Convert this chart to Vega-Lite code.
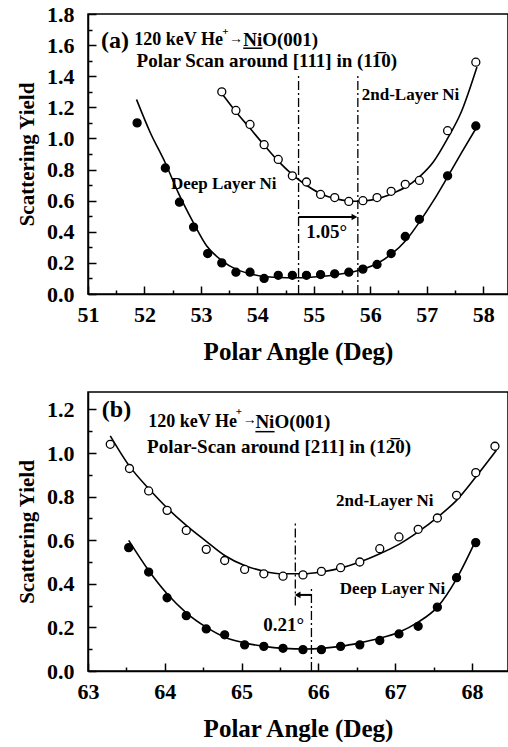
{
  "$schema": "https://vega.github.io/schema/vega-lite/v6.json",
  "padding": {"top": 2, "left": 15, "right": 0, "bottom": 0},
  "spacing": 26,
  "config": {
    "font": "Liberation Serif",
    "view": {"stroke": "black", "strokeWidth": 1.5},
    "axis": {
      "labelFont": "Liberation Serif", "labelFontWeight": "bold", "labelFontSize": 22, "labelColor": "black",
      "titleFont": "Liberation Serif", "titleFontWeight": "bold", "titleColor": "black",
      "domainColor": "black", "domainWidth": 1.5, "tickColor": "black", "tickWidth": 1.5, "grid": false,
      "labelOverlap": false, "labelFlush": false, "tickCount": 60
    },
    "text": {"font": "Liberation Serif", "fontWeight": "bold", "color": "black"}
  },
  "datasets": {
    "a_pts": [
      {"layer": "deep", "x": 51.87, "y": 1.10}, {"layer": "deep", "x": 52.37, "y": 0.81}, {"layer": "deep", "x": 52.62, "y": 0.59},
      {"layer": "deep", "x": 52.87, "y": 0.43}, {"layer": "deep", "x": 53.12, "y": 0.26}, {"layer": "deep", "x": 53.37, "y": 0.20},
      {"layer": "deep", "x": 53.62, "y": 0.14}, {"layer": "deep", "x": 53.87, "y": 0.14}, {"layer": "deep", "x": 54.12, "y": 0.10},
      {"layer": "deep", "x": 54.37, "y": 0.12}, {"layer": "deep", "x": 54.62, "y": 0.12}, {"layer": "deep", "x": 54.87, "y": 0.12},
      {"layer": "deep", "x": 55.12, "y": 0.125}, {"layer": "deep", "x": 55.37, "y": 0.13}, {"layer": "deep", "x": 55.62, "y": 0.14},
      {"layer": "deep", "x": 55.87, "y": 0.16}, {"layer": "deep", "x": 56.12, "y": 0.19}, {"layer": "deep", "x": 56.37, "y": 0.26},
      {"layer": "deep", "x": 56.62, "y": 0.37}, {"layer": "deep", "x": 56.87, "y": 0.48}, {"layer": "deep", "x": 57.37, "y": 0.76},
      {"layer": "deep", "x": 57.87, "y": 1.08},
      {"layer": "second", "x": 53.37, "y": 1.30}, {"layer": "second", "x": 53.62, "y": 1.18}, {"layer": "second", "x": 53.87, "y": 1.09},
      {"layer": "second", "x": 54.12, "y": 0.96}, {"layer": "second", "x": 54.37, "y": 0.865}, {"layer": "second", "x": 54.62, "y": 0.76},
      {"layer": "second", "x": 54.87, "y": 0.72}, {"layer": "second", "x": 55.12, "y": 0.64}, {"layer": "second", "x": 55.37, "y": 0.62},
      {"layer": "second", "x": 55.62, "y": 0.595}, {"layer": "second", "x": 55.87, "y": 0.60}, {"layer": "second", "x": 56.12, "y": 0.62},
      {"layer": "second", "x": 56.37, "y": 0.66}, {"layer": "second", "x": 56.62, "y": 0.705}, {"layer": "second", "x": 56.87, "y": 0.73},
      {"layer": "second", "x": 57.37, "y": 1.05}, {"layer": "second", "x": 57.87, "y": 1.49}
    ],
    "a_fit": [
      {"layer": "deep", "x": 51.86, "y": 1.25}, {"layer": "deep", "x": 52.1, "y": 1.04}, {"layer": "deep", "x": 52.36, "y": 0.85},
      {"layer": "deep", "x": 52.6, "y": 0.65}, {"layer": "deep", "x": 52.85, "y": 0.47}, {"layer": "deep", "x": 53.1, "y": 0.31},
      {"layer": "deep", "x": 53.37, "y": 0.215}, {"layer": "deep", "x": 53.62, "y": 0.16}, {"layer": "deep", "x": 53.87, "y": 0.13},
      {"layer": "deep", "x": 54.12, "y": 0.113}, {"layer": "deep", "x": 54.4, "y": 0.106}, {"layer": "deep", "x": 54.64, "y": 0.104},
      {"layer": "deep", "x": 54.9, "y": 0.106}, {"layer": "deep", "x": 55.12, "y": 0.112}, {"layer": "deep", "x": 55.4, "y": 0.124},
      {"layer": "deep", "x": 55.63, "y": 0.138}, {"layer": "deep", "x": 55.88, "y": 0.161}, {"layer": "deep", "x": 56.13, "y": 0.198},
      {"layer": "deep", "x": 56.38, "y": 0.258}, {"layer": "deep", "x": 56.63, "y": 0.344}, {"layer": "deep", "x": 56.87, "y": 0.462},
      {"layer": "deep", "x": 57.12, "y": 0.60}, {"layer": "deep", "x": 57.37, "y": 0.753}, {"layer": "deep", "x": 57.62, "y": 0.91},
      {"layer": "deep", "x": 57.89, "y": 1.075},
      {"layer": "second", "x": 53.37, "y": 1.29}, {"layer": "second", "x": 53.62, "y": 1.172}, {"layer": "second", "x": 53.87, "y": 1.065},
      {"layer": "second", "x": 54.12, "y": 0.957}, {"layer": "second", "x": 54.37, "y": 0.854}, {"layer": "second", "x": 54.62, "y": 0.768},
      {"layer": "second", "x": 54.87, "y": 0.699}, {"layer": "second", "x": 55.12, "y": 0.645}, {"layer": "second", "x": 55.38, "y": 0.613},
      {"layer": "second", "x": 55.63, "y": 0.598}, {"layer": "second", "x": 55.75, "y": 0.596}, {"layer": "second", "x": 55.88, "y": 0.598},
      {"layer": "second", "x": 56.13, "y": 0.613}, {"layer": "second", "x": 56.38, "y": 0.645}, {"layer": "second", "x": 56.63, "y": 0.688},
      {"layer": "second", "x": 56.87, "y": 0.753}, {"layer": "second", "x": 57.12, "y": 0.85}, {"layer": "second", "x": 57.37, "y": 1.0},
      {"layer": "second", "x": 57.6, "y": 1.16}, {"layer": "second", "x": 57.89, "y": 1.46}
    ],
    "a_vlines": [{"x": 54.73, "y": 0, "y2": 1.41}, {"x": 55.78, "y": 0, "y2": 1.41}],
    "a_arrow": [{"x": 54.73, "x2": 55.7, "y": 0.495, "head": 55.72}],
    "a_underline": [{"x": 53.75, "x2": 54.09, "y": 1.58}],
    "a_text": [
      {"role": "tag", "x": 51.23, "y": 1.625, "text": "(a)"},
      {"role": "mainR", "x": 53.39, "y": 1.63, "text": "120 keV He"},
      {"role": "sup", "x": 53.435, "y": 1.685, "text": "+"},
      {"role": "arrow", "x": 53.62, "y": 1.642, "text": "→"},
      {"role": "main", "x": 53.75, "y": 1.63, "text": "NiO(001)"},
      {"role": "main", "x": 51.86, "y": 1.495, "text": "Polar Scan around [111] in (11̅0)"},
      {"role": "series", "x": 55.85, "y": 1.28, "text": "2nd-Layer Ni"},
      {"role": "series", "x": 52.47, "y": 0.71, "text": "Deep Layer Ni"},
      {"role": "delta", "x": 55.23, "y": 0.40, "text": "1.05°"}
    ],
    "b_pts": [
      {"layer": "second", "x": 63.29, "y": 1.04}, {"layer": "second", "x": 63.54, "y": 0.929}, {"layer": "second", "x": 63.79, "y": 0.826},
      {"layer": "second", "x": 64.03, "y": 0.737}, {"layer": "second", "x": 64.28, "y": 0.645}, {"layer": "second", "x": 64.54, "y": 0.558},
      {"layer": "second", "x": 64.78, "y": 0.507}, {"layer": "second", "x": 65.04, "y": 0.466}, {"layer": "second", "x": 65.29, "y": 0.446},
      {"layer": "second", "x": 65.54, "y": 0.435}, {"layer": "second", "x": 65.80, "y": 0.441}, {"layer": "second", "x": 66.04, "y": 0.457},
      {"layer": "second", "x": 66.29, "y": 0.474}, {"layer": "second", "x": 66.54, "y": 0.50}, {"layer": "second", "x": 66.80, "y": 0.561},
      {"layer": "second", "x": 67.05, "y": 0.615}, {"layer": "second", "x": 67.30, "y": 0.65}, {"layer": "second", "x": 67.55, "y": 0.702},
      {"layer": "second", "x": 67.80, "y": 0.806}, {"layer": "second", "x": 68.05, "y": 0.91}, {"layer": "second", "x": 68.30, "y": 1.031},
      {"layer": "deep", "x": 63.53, "y": 0.566}, {"layer": "deep", "x": 63.79, "y": 0.454}, {"layer": "deep", "x": 64.03, "y": 0.336},
      {"layer": "deep", "x": 64.28, "y": 0.254}, {"layer": "deep", "x": 64.54, "y": 0.193}, {"layer": "deep", "x": 64.78, "y": 0.166},
      {"layer": "deep", "x": 65.04, "y": 0.12}, {"layer": "deep", "x": 65.29, "y": 0.113}, {"layer": "deep", "x": 65.54, "y": 0.104},
      {"layer": "deep", "x": 65.80, "y": 0.098}, {"layer": "deep", "x": 66.04, "y": 0.098}, {"layer": "deep", "x": 66.29, "y": 0.113},
      {"layer": "deep", "x": 66.54, "y": 0.12}, {"layer": "deep", "x": 66.80, "y": 0.14}, {"layer": "deep", "x": 67.05, "y": 0.17},
      {"layer": "deep", "x": 67.30, "y": 0.205}, {"layer": "deep", "x": 67.55, "y": 0.293}, {"layer": "deep", "x": 67.80, "y": 0.428},
      {"layer": "deep", "x": 68.05, "y": 0.589}
    ],
    "b_fit": [
      {"layer": "second", "x": 63.29, "y": 1.079}, {"layer": "second", "x": 63.54, "y": 0.94}, {"layer": "second", "x": 63.79, "y": 0.837},
      {"layer": "second", "x": 64.03, "y": 0.748}, {"layer": "second", "x": 64.28, "y": 0.668}, {"layer": "second", "x": 64.54, "y": 0.595},
      {"layer": "second", "x": 64.78, "y": 0.53}, {"layer": "second", "x": 65.04, "y": 0.484}, {"layer": "second", "x": 65.29, "y": 0.458},
      {"layer": "second", "x": 65.54, "y": 0.446}, {"layer": "second", "x": 65.80, "y": 0.446}, {"layer": "second", "x": 66.04, "y": 0.454},
      {"layer": "second", "x": 66.29, "y": 0.472}, {"layer": "second", "x": 66.54, "y": 0.50}, {"layer": "second", "x": 66.80, "y": 0.538},
      {"layer": "second", "x": 67.05, "y": 0.581}, {"layer": "second", "x": 67.30, "y": 0.638}, {"layer": "second", "x": 67.55, "y": 0.705},
      {"layer": "second", "x": 67.80, "y": 0.783}, {"layer": "second", "x": 68.05, "y": 0.89}, {"layer": "second", "x": 68.32, "y": 1.013},
      {"layer": "deep", "x": 63.53, "y": 0.599}, {"layer": "deep", "x": 63.79, "y": 0.461}, {"layer": "deep", "x": 64.03, "y": 0.354},
      {"layer": "deep", "x": 64.28, "y": 0.267}, {"layer": "deep", "x": 64.54, "y": 0.201}, {"layer": "deep", "x": 64.78, "y": 0.155},
      {"layer": "deep", "x": 65.04, "y": 0.129}, {"layer": "deep", "x": 65.29, "y": 0.113}, {"layer": "deep", "x": 65.54, "y": 0.104},
      {"layer": "deep", "x": 65.85, "y": 0.101}, {"layer": "deep", "x": 66.04, "y": 0.104}, {"layer": "deep", "x": 66.29, "y": 0.113},
      {"layer": "deep", "x": 66.54, "y": 0.129}, {"layer": "deep", "x": 66.80, "y": 0.15}, {"layer": "deep", "x": 67.05, "y": 0.178},
      {"layer": "deep", "x": 67.30, "y": 0.224}, {"layer": "deep", "x": 67.55, "y": 0.293}, {"layer": "deep", "x": 67.80, "y": 0.423},
      {"layer": "deep", "x": 68.05, "y": 0.599}
    ],
    "b_vlines": [{"x": 65.70, "y": 0.30, "y2": 0.69}, {"x": 65.91, "y": 0, "y2": 0.39}],
    "b_arrow": [{"x": 65.74, "x2": 65.91, "y": 0.349, "head": 65.73}],
    "b_underline": [{"x": 65.18, "x2": 65.43, "y": 1.098}],
    "b_text": [
      {"role": "tag", "x": 63.18, "y": 1.197, "text": "(b)"},
      {"role": "mainR", "x": 64.94, "y": 1.143, "text": "120 keV He"},
      {"role": "sup", "x": 64.965, "y": 1.187, "text": "+"},
      {"role": "arrow", "x": 65.105, "y": 1.152, "text": "→"},
      {"role": "main", "x": 65.18, "y": 1.143, "text": "NiO(001)"},
      {"role": "main", "x": 63.77, "y": 1.028, "text": "Polar-Scan around [211] in (12̅0)"},
      {"role": "series", "x": 66.23, "y": 0.78, "text": "2nd-Layer Ni"},
      {"role": "series", "x": 66.28, "y": 0.377, "text": "Deep Layer Ni"},
      {"role": "delta", "x": 65.55, "y": 0.21, "text": "0.21°"}
    ]
  },
  "vconcat": [
    {
      "width": 420, "height": 280,
      "layer": [
        {
          "data": {"name": "a_fit"},
          "mark": {"type": "line", "color": "black", "strokeWidth": 1.6, "interpolate": "monotone"},
          "encoding": {
            "x": {"field": "x", "type": "quantitative", "title": "Polar Angle (Deg)",
              "scale": {"domain": [51, 58.44], "nice": false, "zero": false},
              "axis": {"values": [51, 51.5, 52, 52.5, 53, 53.5, 54, 54.5, 55, 55.5, 56, 56.5, 57, 57.5, 58], "tickCount": 60,
                "labelExpr": "datum.value % 1 === 0 ? format(datum.value, 'd') : ''",
                "tickSize": {"condition": {"test": "datum.value % 1 === 0", "value": -8}, "value": -4},
                "labelOverlap": false, "labelFlush": false,
                "labelPadding": 18, "titleFontSize": 25, "titlePadding": 10}},
            "y": {"field": "y", "type": "quantitative", "title": "Scattering Yield",
              "scale": {"domain": [0, 1.8], "nice": false},
              "axis": {"values": [0, 0.1, 0.2, 0.3, 0.4, 0.5, 0.6, 0.7, 0.8, 0.9, 1.0, 1.1, 1.2, 1.3, 1.4, 1.5, 1.6, 1.7, 1.8], "tickCount": 60,
                "labelExpr": "round(datum.value * 10) % 2 === 0 ? format(datum.value, '.1f') : ''",
                "tickSize": {"condition": {"test": "round(datum.value * 10) % 2 === 0", "value": -8}, "value": -4},
                "labelOverlap": false, "labelFlush": false,
                "labelPadding": 22, "titleFontSize": 21, "titlePadding": 9}},
            "detail": {"field": "layer"}
          }
        },
        {
          "data": {"name": "a_vlines"},
          "mark": {"type": "rule", "color": "black", "strokeWidth": 1.3, "strokeDash": [9, 3, 2, 3]},
          "encoding": {"x": {"field": "x", "type": "quantitative"}, "y": {"field": "y", "type": "quantitative"}, "y2": {"field": "y2"}}
        },
        {
          "data": {"name": "a_arrow"},
          "mark": {"type": "rule", "color": "black", "strokeWidth": 2},
          "encoding": {"x": {"field": "x", "type": "quantitative"}, "x2": {"field": "x2"}, "y": {"field": "y", "type": "quantitative"}}
        },
        {
          "data": {"name": "a_arrow"},
          "mark": {"type": "point", "shape": "triangle-right", "filled": true, "color": "black", "size": 45, "opacity": 1},
          "encoding": {"x": {"field": "head", "type": "quantitative"}, "y": {"field": "y", "type": "quantitative"}}
        },
        {
          "data": {"name": "a_underline"},
          "mark": {"type": "rule", "color": "black", "strokeWidth": 1.5},
          "encoding": {"x": {"field": "x", "type": "quantitative"}, "x2": {"field": "x2"}, "y": {"field": "y", "type": "quantitative"}}
        },
        {
          "data": {"name": "a_pts"},
          "mark": {"type": "point", "shape": "circle", "size": 64, "stroke": "black", "strokeWidth": 1.3, "opacity": 1},
          "encoding": {
            "x": {"field": "x", "type": "quantitative"}, "y": {"field": "y", "type": "quantitative"},
            "fill": {"field": "layer", "type": "nominal", "scale": {"domain": ["deep", "second"], "range": ["black", "white"]}, "legend": null}
          }
        },
        {
          "data": {"name": "a_text"},
          "transform": [{"filter": "datum.role === 'tag'"}],
          "mark": {"type": "text", "align": "left", "baseline": "middle", "fontSize": 24},
          "encoding": {"x": {"field": "x", "type": "quantitative"}, "y": {"field": "y", "type": "quantitative"}, "text": {"field": "text"}}
        },
        {
          "data": {"name": "a_text"},
          "transform": [{"filter": "datum.role === 'main'"}],
          "mark": {"type": "text", "align": "left", "baseline": "middle", "fontSize": 19},
          "encoding": {"x": {"field": "x", "type": "quantitative"}, "y": {"field": "y", "type": "quantitative"}, "text": {"field": "text"}}
        },
        {
          "data": {"name": "a_text"},
          "transform": [{"filter": "datum.role === 'mainR'"}],
          "mark": {"type": "text", "align": "right", "baseline": "middle", "fontSize": 18},
          "encoding": {"x": {"field": "x", "type": "quantitative"}, "y": {"field": "y", "type": "quantitative"}, "text": {"field": "text"}}
        },
        {
          "data": {"name": "a_text"},
          "transform": [{"filter": "datum.role === 'sup'"}],
          "mark": {"type": "text", "align": "center", "baseline": "middle", "fontSize": 11},
          "encoding": {"x": {"field": "x", "type": "quantitative"}, "y": {"field": "y", "type": "quantitative"}, "text": {"field": "text"}}
        },
        {
          "data": {"name": "a_text"},
          "transform": [{"filter": "datum.role === 'arrow'"}],
          "mark": {"type": "text", "align": "center", "baseline": "middle", "fontSize": 14, "fontWeight": "normal"},
          "encoding": {"x": {"field": "x", "type": "quantitative"}, "y": {"field": "y", "type": "quantitative"}, "text": {"field": "text"}}
        },
        {
          "data": {"name": "a_text"},
          "transform": [{"filter": "datum.role === 'series'"}],
          "mark": {"type": "text", "align": "left", "baseline": "middle", "fontSize": 17},
          "encoding": {"x": {"field": "x", "type": "quantitative"}, "y": {"field": "y", "type": "quantitative"}, "text": {"field": "text"}}
        },
        {
          "data": {"name": "a_text"},
          "transform": [{"filter": "datum.role === 'delta'"}],
          "mark": {"type": "text", "align": "center", "baseline": "middle", "fontSize": 19},
          "encoding": {"x": {"field": "x", "type": "quantitative"}, "y": {"field": "y", "type": "quantitative"}, "text": {"field": "text"}}
        }
      ]
    },
    {
      "width": 420, "height": 279,
      "layer": [
        {
          "data": {"name": "b_fit"},
          "mark": {"type": "line", "color": "black", "strokeWidth": 1.6, "interpolate": "monotone"},
          "encoding": {
            "x": {"field": "x", "type": "quantitative", "title": "Polar Angle (Deg)",
              "scale": {"domain": [63, 68.47], "nice": false, "zero": false},
              "axis": {"values": [63, 63.5, 64, 64.5, 65, 65.5, 66, 66.5, 67, 67.5, 68], "tickCount": 60,
                "labelExpr": "datum.value % 1 === 0 ? format(datum.value, 'd') : ''",
                "tickSize": {"condition": {"test": "datum.value % 1 === 0", "value": -8}, "value": -4},
                "labelOverlap": false, "labelFlush": false,
                "labelPadding": 18, "titleFontSize": 25, "titlePadding": 10}},
            "y": {"field": "y", "type": "quantitative", "title": "Scattering Yield",
              "scale": {"domain": [0, 1.28], "nice": false},
              "axis": {"values": [0, 0.1, 0.2, 0.3, 0.4, 0.5, 0.6, 0.7, 0.8, 0.9, 1.0, 1.1, 1.2], "tickCount": 60,
                "labelExpr": "round(datum.value * 10) % 2 === 0 ? format(datum.value, '.1f') : ''",
                "tickSize": {"condition": {"test": "round(datum.value * 10) % 2 === 0", "value": -8}, "value": -4},
                "labelOverlap": false, "labelFlush": false,
                "labelPadding": 22, "titleFontSize": 21, "titlePadding": 9}},
            "detail": {"field": "layer"}
          }
        },
        {
          "data": {"name": "b_vlines"},
          "mark": {"type": "rule", "color": "black", "strokeWidth": 1.3, "strokeDash": [9, 3, 2, 3]},
          "encoding": {"x": {"field": "x", "type": "quantitative"}, "y": {"field": "y", "type": "quantitative"}, "y2": {"field": "y2"}}
        },
        {
          "data": {"name": "b_arrow"},
          "mark": {"type": "rule", "color": "black", "strokeWidth": 2},
          "encoding": {"x": {"field": "x", "type": "quantitative"}, "x2": {"field": "x2"}, "y": {"field": "y", "type": "quantitative"}}
        },
        {
          "data": {"name": "b_arrow"},
          "mark": {"type": "point", "shape": "triangle-left", "filled": true, "color": "black", "size": 45, "opacity": 1},
          "encoding": {"x": {"field": "head", "type": "quantitative"}, "y": {"field": "y", "type": "quantitative"}}
        },
        {
          "data": {"name": "b_underline"},
          "mark": {"type": "rule", "color": "black", "strokeWidth": 1.5},
          "encoding": {"x": {"field": "x", "type": "quantitative"}, "x2": {"field": "x2"}, "y": {"field": "y", "type": "quantitative"}}
        },
        {
          "data": {"name": "b_pts"},
          "mark": {"type": "point", "shape": "circle", "size": 64, "stroke": "black", "strokeWidth": 1.3, "opacity": 1},
          "encoding": {
            "x": {"field": "x", "type": "quantitative"}, "y": {"field": "y", "type": "quantitative"},
            "fill": {"field": "layer", "type": "nominal", "scale": {"domain": ["deep", "second"], "range": ["black", "white"]}, "legend": null}
          }
        },
        {
          "data": {"name": "b_text"},
          "transform": [{"filter": "datum.role === 'tag'"}],
          "mark": {"type": "text", "align": "left", "baseline": "middle", "fontSize": 24},
          "encoding": {"x": {"field": "x", "type": "quantitative"}, "y": {"field": "y", "type": "quantitative"}, "text": {"field": "text"}}
        },
        {
          "data": {"name": "b_text"},
          "transform": [{"filter": "datum.role === 'main'"}],
          "mark": {"type": "text", "align": "left", "baseline": "middle", "fontSize": 19},
          "encoding": {"x": {"field": "x", "type": "quantitative"}, "y": {"field": "y", "type": "quantitative"}, "text": {"field": "text"}}
        },
        {
          "data": {"name": "b_text"},
          "transform": [{"filter": "datum.role === 'mainR'"}],
          "mark": {"type": "text", "align": "right", "baseline": "middle", "fontSize": 18},
          "encoding": {"x": {"field": "x", "type": "quantitative"}, "y": {"field": "y", "type": "quantitative"}, "text": {"field": "text"}}
        },
        {
          "data": {"name": "b_text"},
          "transform": [{"filter": "datum.role === 'sup'"}],
          "mark": {"type": "text", "align": "center", "baseline": "middle", "fontSize": 11},
          "encoding": {"x": {"field": "x", "type": "quantitative"}, "y": {"field": "y", "type": "quantitative"}, "text": {"field": "text"}}
        },
        {
          "data": {"name": "b_text"},
          "transform": [{"filter": "datum.role === 'arrow'"}],
          "mark": {"type": "text", "align": "center", "baseline": "middle", "fontSize": 14, "fontWeight": "normal"},
          "encoding": {"x": {"field": "x", "type": "quantitative"}, "y": {"field": "y", "type": "quantitative"}, "text": {"field": "text"}}
        },
        {
          "data": {"name": "b_text"},
          "transform": [{"filter": "datum.role === 'series'"}],
          "mark": {"type": "text", "align": "left", "baseline": "middle", "fontSize": 17},
          "encoding": {"x": {"field": "x", "type": "quantitative"}, "y": {"field": "y", "type": "quantitative"}, "text": {"field": "text"}}
        },
        {
          "data": {"name": "b_text"},
          "transform": [{"filter": "datum.role === 'delta'"}],
          "mark": {"type": "text", "align": "center", "baseline": "middle", "fontSize": 19},
          "encoding": {"x": {"field": "x", "type": "quantitative"}, "y": {"field": "y", "type": "quantitative"}, "text": {"field": "text"}}
        }
      ]
    }
  ]
}
